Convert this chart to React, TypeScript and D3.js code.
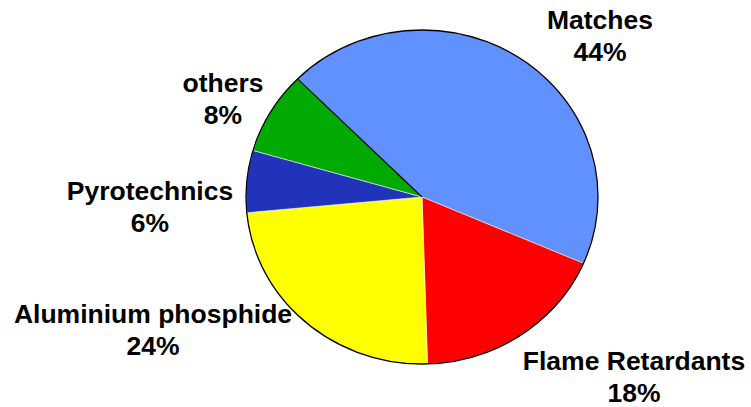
import React, { useEffect, useRef } from 'react';
import * as d3 from 'd3';

const categories = ['Matches', 'Flame Retardants', 'Aluminium phosphide', 'Pyrotechnics', 'others'];
const shares = [44, 18, 24, 6, 8];
const colors = ['#6191FF', '#FF0000', '#FFFF00', '#2233BB', '#00AA00'];
// label anchor (centre x, first baseline y) for each slice, as placed in the original
const labelPos: [number, number][] = [
  [600, 29],
  [634, 370],
  [153, 323],
  [150, 200],
  [223, 92],
];

const W = 751, H = 407;
const cx = 422, cy = 197, rx = 176, ry = 167;

const App = () => {
  const ref = useRef<SVGSVGElement | null>(null);

  useEffect(() => {
    const svg = d3.select(ref.current);
    svg.selectAll('*').remove();

    const data = categories.map((c, i) => ({ name: c, value: shares[i], color: colors[i] }));
    const start = (-45 * Math.PI) / 180;
    const pie = d3.pie<any>().value(d => d.value).sort(null).startAngle(start).endAngle(start + 2 * Math.PI);
    const arc = d3.arc<any>().innerRadius(0).outerRadius(rx);

    const g = svg.append('g').attr('transform', `translate(${cx},${cy}) scale(1,${ry / rx})`);

    g.selectAll('path.slice')
      .data(pie(data))
      .enter()
      .append('path')
      .attr('class', 'slice')
      .attr('d', arc)
      .attr('fill', d => d.data.color)
      .attr('stroke', '#f4f4f4')
      .attr('stroke-width', 0.6)
      .attr('vector-effect', 'non-scaling-stroke');

    // dark radius at the first slice edge
    g.append('line')
      .attr('x1', 0).attr('y1', 0)
      .attr('x2', rx * Math.sin(start)).attr('y2', -rx * Math.cos(start))
      .attr('stroke', '#000').attr('stroke-width', 1.2)
      .attr('vector-effect', 'non-scaling-stroke');

    g.append('circle')
      .attr('r', rx)
      .attr('fill', 'none')
      .attr('stroke', '#000')
      .attr('stroke-width', 1.3)
      .attr('vector-effect', 'non-scaling-stroke');

    const labels = svg.append('g')
      .style('font-family', '"Liberation Sans", Arial, sans-serif')
      .style('font-weight', 'bold')
      .style('font-size', '26.5px')
      .attr('fill', '#000');

    data.forEach((d, i) => {
      const [lx, ly] = labelPos[i];
      const t = labels.append('text').attr('text-anchor', 'middle');
      t.append('tspan').attr('x', lx).attr('y', ly).text(d.name);
      t.append('tspan').attr('x', lx).attr('y', ly + 32).text(`${d.value}%`);
    });
  }, []);

  return (
    <svg
      ref={ref}
      width={W}
      height={H}
      style={{ position: 'absolute', left: 0, top: 0, background: '#fff', display: 'block' }}
    />
  );
};

export default App;
